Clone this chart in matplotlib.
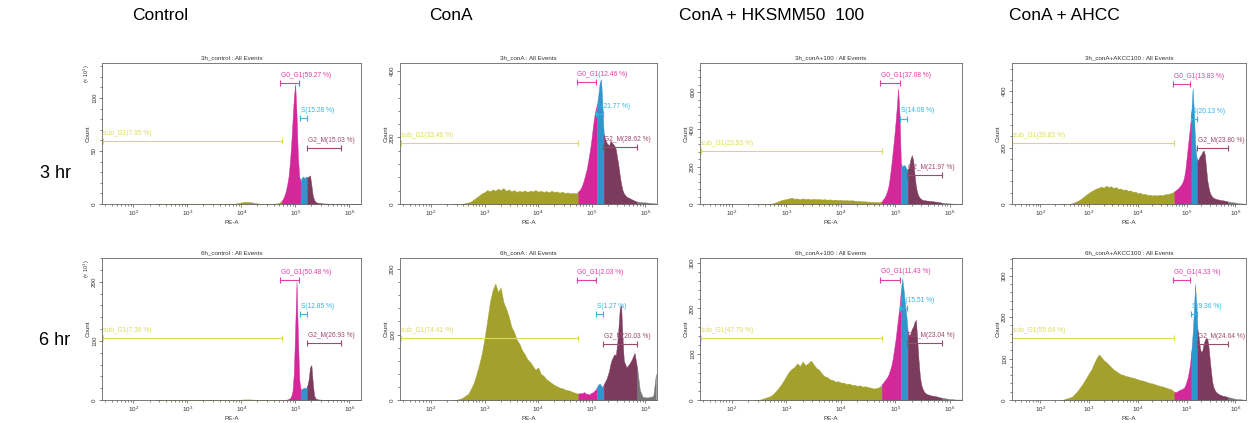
"""
Cell cycle histograms (PE-A), 3 hr and 6 hr, four treatments
"""

import numpy as np
import matplotlib.pyplot as plt
from matplotlib.ticker import AutoMinorLocator, LogLocator, MultipleLocator, NullFormatter

plt.rcParams['font.family'] = ['Liberation Sans', 'DejaVu Sans']

# ============================================================================
# DATA
# ============================================================================

col_titles = ['Control', 'ConA', 'ConA + HKSMM50  100', 'ConA + AHCC']
row_titles = ['3 hr', '6 hr']

panel_titles = ['3h_control : All Events', '3h_conA : All Events',
                '3h_conA+100 : All Events', '3h_conA+AKCC100 : All Events',
                '6h_control : All Events', '6h_conA : All Events',
                '6h_conA+100 : All Events', '6h_conA+AKCC100 : All Events']

# bin centres in log10(PE-A): coarse on the sub_G1 side, finer on the peaks
bins_low = np.arange(2.40, 4.701, 0.05)
bins_high = np.arange(4.725, 5.601, 0.025)
bins_tail = np.arange(5.65, 6.201, 0.05)
log_bins = np.round(np.concatenate([bins_low, bins_high, bins_tail]), 3)

# counts per bin (control panels in units of 10)
counts_3h_control = (
    [0] * 30 + [0.5, 1, 1.5, 2, 2, 2, 1.5, 1, 0.5, 0.3, 0.2, 0.2, 0.2, 0.2, 0.3, 0.5, 1]
    + [2, 3, 5, 8, 12, 18, 25, 38, 55, 78, 100, 113, 85, 45, 26, 22, 25, 26,
       24, 26, 25, 26, 27, 18, 8, 4, 2, 1.5, 1, 1, 0.8, 0.6, 0.5, 0.5, 0.4, 0.4]
    + [0.3, 0.3, 0.2, 0.2, 0.2, 0.1, 0.1, 0.1, 0, 0, 0, 0])
counts_3h_cona = (
    [0, 0, 0, 0, 1, 3, 5, 8, 14, 20, 26, 32, 36, 42, 38, 44, 40, 46, 42, 48, 40, 44,
     38, 42, 36, 40, 37, 41, 36, 40, 38, 42, 37, 40, 36, 39, 35, 40, 36, 38, 34, 37,
     33, 35, 32, 34, 32]
    + [34, 38, 42, 48, 58, 70, 85, 100, 120, 145, 170, 200, 235, 265, 285, 300, 330,
       365, 375, 300, 210, 195, 185, 180, 175, 190, 185, 180, 175, 165, 140, 115, 85,
       60, 42, 32]
    + [22, 18, 14, 10, 7, 6, 5, 5, 4, 3, 2, 2])
counts_3h_cona_100 = (
    [0] * 7 + [3, 8, 14, 20, 24, 26, 30, 34, 28, 30, 26, 30, 27, 29, 25, 28, 26, 27,
               24, 26, 23, 25, 22, 24, 21, 22, 20, 21, 19, 20, 18, 17, 16, 15, 14, 13,
               12, 11, 10, 10]
    + [12, 15, 25, 35, 50, 70, 100, 150, 210, 280, 350, 430, 520, 620, 480, 220, 200,
       210, 205, 190, 185, 200, 240, 262, 235, 160, 95, 60, 42, 32, 26, 22, 20, 20,
       18, 18]
    + [16, 14, 12, 10, 7, 5, 4, 3, 2, 2, 1, 1])
counts_3h_cona_ahcc = (
    [0] * 5 + [3, 6, 10, 14, 20, 27, 34, 40, 46, 50, 55, 58, 62, 58, 65, 60, 63, 57,
               60, 54, 55, 50, 52, 47, 48, 43, 44, 38, 40, 35, 36, 32, 33, 30, 32, 30,
               33, 31, 34, 35, 37, 40]
    + [42, 45, 48, 52, 55, 60, 65, 72, 80, 95, 120, 160, 200, 240, 280, 330, 410, 330,
       220, 170, 155, 160, 170, 175, 185, 190, 175, 130, 85, 60, 42, 32, 26, 22, 20, 18]
    + [16, 14, 13, 11, 9, 7, 6, 5, 3, 2, 2, 1])
counts_6h_control = (
    [0] * 32 + [0.5, 1, 1, 1, 0.8, 0.5, 0.3, 0.2, 0.1, 0.1, 0.1, 0.1, 0.1, 0.1, 0.1]
    + [0.1, 0.1, 0.2, 0.3, 0.5, 0.8, 1.5, 3, 6, 15, 45, 120, 200, 110, 35, 18, 19, 20,
       21, 20, 24, 35, 55, 59, 30, 8, 3, 1.5, 1, 0.8, 0.6, 0.5, 0.4, 0.4, 0.3, 0.3]
    + [0.3, 0.2, 0.2, 0.2, 0.1, 0.1, 0.1, 0, 0, 0, 0, 0])
counts_6h_cona = (
    [0, 0, 1, 2, 4, 7, 10, 18, 27, 40, 55, 72, 95, 122, 150, 168, 178, 165, 172, 150,
     140, 128, 112, 104, 92, 86, 76, 70, 62, 58, 52, 46, 50, 40, 37, 32, 29, 26, 23,
     21, 19, 18, 16, 15, 14, 12, 11]
    + [10, 10, 10, 11, 10, 12, 11, 9, 10, 8, 10, 11, 12, 14, 16, 20, 24, 25, 22, 20,
       24, 28, 32, 38, 45, 55, 62, 66, 70, 68, 85, 110, 140, 145, 95, 60]
    + [50, 55, 62, 72, 48, 15, 5, 4, 4, 5, 6, 40])
counts_6h_cona_100 = (
    [0, 0, 0, 2, 4, 6, 8, 12, 18, 25, 33, 42, 52, 62, 68, 72, 80, 74, 84, 76, 80, 86,
     78, 70, 66, 58, 52, 50, 45, 44, 40, 41, 38, 38, 35, 36, 33, 33, 31, 32, 29, 30,
     28, 27, 25, 26, 28]
    + [30, 34, 38, 42, 46, 50, 56, 65, 75, 90, 110, 130, 155, 180, 205, 240, 265, 240,
       210, 185, 150, 140, 145, 155, 160, 170, 175, 130, 85, 50, 32, 24, 18, 15, 13, 12]
    + [10, 9, 8, 6, 5, 4, 3, 2, 2, 1, 1, 1])
counts_6h_cona_ahcc = (
    [0, 0, 2, 4, 6, 8, 14, 20, 28, 36, 45, 55, 65, 74, 88, 100, 110, 104, 96, 92, 86,
     80, 74, 70, 66, 62, 61, 58, 57, 55, 54, 52, 50, 48, 47, 45, 43, 41, 40, 38, 36,
     34, 33, 31, 29, 27, 25]
    + [22, 20, 19, 20, 22, 24, 25, 26, 28, 30, 36, 45, 55, 70, 90, 120, 160, 210, 280,
       230, 170, 150, 125, 115, 120, 135, 145, 150, 148, 130, 100, 70, 45, 32, 25, 20]
    + [15, 12, 10, 9, 7, 6, 4, 3, 2, 2, 1, 1])

all_counts = [counts_3h_control, counts_3h_cona, counts_3h_cona_100, counts_3h_cona_ahcc,
              counts_6h_control, counts_6h_cona, counts_6h_cona_100, counts_6h_cona_ahcc]

# y axis top and major step per panel
y_max = [133, 424, 757, 500, 240, 217, 310, 343]
y_step = [50, 200, 200, 200, 100, 100, 100, 100]
times_ten = [True, False, False, False, True, False, False, False]

# gates (log10 limits) and their marker heights
gate_names = ['sub_G1', 'G0_G1', 'S', 'G2_M']
gate_lo = [1.43, 4.72, 5.09, 5.22]
gate_hi = [4.75, 5.08, 5.22, 5.85]
gate_levels = [
    [59, 114, 81, 53],
    [183, 366, 270, 171],
    [284, 650, 459, 155],
    [216, 424, 300, 199],
    [104, 203, 145, 96],
    [95, 183, 131, 85],
    [135, 263, 200, 125],
    [149, 289, 207, 135],
]
gate_pct = [
    [7.95, 59.27, 15.28, 15.03],
    [33.46, 12.46, 21.77, 28.62],
    [23.93, 37.08, 14.08, 21.97],
    [39.83, 13.83, 20.13, 23.80],
    [7.36, 50.48, 12.85, 26.93],
    [74.41, 2.03, 1.27, 20.03],
    [47.79, 11.43, 15.51, 23.04],
    [59.64, 4.33, 9.36, 24.64],
]

# fill colour boundaries (log10)
fill_edges = [2.0, 4.75, 5.10, 5.225, 5.85, 6.3]
fill_colors = ['#a3a12c', '#d4289a', '#2f96cc', '#7c3b5c', '#777777']
gate_colors = ['#dcdc5a', '#e23ea6', '#35b4e6', '#9c4a70']

# ============================================================================
# FIGURE
# ============================================================================

W, H = 1248, 423
fig = plt.figure(figsize=(W / 100, H / 100), dpi=100)

col_px = [(102, 259), (400, 257), (700, 262), (1012, 234)]
row_px = [(63, 204), (258, 400)]


def draw_panel(ax, k):
    counts = np.array(all_counts[k], dtype=float)
    x = 10 ** log_bins

    for lo, hi, color in zip(fill_edges[:-1], fill_edges[1:], fill_colors):
        m = (log_bins >= lo - 1e-9) & (log_bins <= hi + 1e-9)
        ax.fill_between(x[m], counts[m], color=color, lw=0.3, edgecolor=color)

    for g in range(4):
        xs = [10 ** gate_lo[g], 10 ** gate_hi[g]]
        ys = [gate_levels[k][g]] * 2
        col = gate_colors[g]
        ax.plot(xs, ys, color=col, lw=0.8)
        ax.plot(xs, ys, ls='none', marker='|', ms=5, mew=0.8, color=col)
        ax.annotate(f'{gate_names[g]}({gate_pct[k][g]:.2f} %)', (xs[0], ys[0]),
                    xytext=(0.5, 3), textcoords='offset points',
                    fontsize=4.8, color=col, va='bottom', ha='left')

    ax.set_xscale('log')
    ax.set_xlim(10 ** 1.42, 10 ** 6.22)
    ax.set_ylim(0, y_max[k])
    ax.xaxis.set_major_locator(LogLocator(base=10, numticks=10))
    ax.xaxis.set_minor_locator(LogLocator(base=10, subs=np.arange(2, 10), numticks=20))
    ax.xaxis.set_minor_formatter(NullFormatter())
    ax.yaxis.set_major_locator(MultipleLocator(y_step[k]))
    ax.yaxis.set_minor_locator(AutoMinorLocator(5))

    ax.tick_params(which='both', direction='out', colors='#555555', labelcolor='#333333',
                   labelsize=4.5, width=0.5, pad=1)
    ax.tick_params(which='major', length=2.5)
    ax.tick_params(which='minor', length=1.5)
    ax.tick_params(axis='y', labelrotation=90)
    for lab in ax.get_yticklabels():
        lab.set_va('center')
    for s in ax.spines.values():
        s.set_color('#666666')
        s.set_linewidth(0.6)

    ax.set_title(panel_titles[k], fontsize=4.5, pad=2.5, color='#333333')
    ax.set_ylabel('Count', fontsize=4.5, labelpad=1, color='#333333')
    ax.set_xlabel('PE-A', fontsize=4.5, labelpad=1, color='#333333')
    if times_ten[k]:
        # multiplier sits in the Count label column, above the tick labels
        ax.text(-0.058, 0.99, '(× 10$^{1}$)', rotation=90, transform=ax.transAxes,
                fontsize=4, va='top', ha='center', color='#333333')


for r, (top, bottom) in enumerate(row_px):
    for c, (left, width) in enumerate(col_px):
        ax = fig.add_axes([left / W, 1 - bottom / H, width / W, (bottom - top) / H])
        draw_panel(ax, r * 4 + c)

col_centres = [160, 451, 772, 1064]
for c, t in enumerate(col_titles):
    fig.text(col_centres[c] / W, 1 - 15 / H, t, ha='center', va='center', fontsize=12.5)

row_centres = [173, 340]
for r, t in enumerate(row_titles):
    fig.text(55 / W, 1 - row_centres[r] / H, t, ha='center', va='center', fontsize=13)

fig.savefig('out.png', dpi=100)
